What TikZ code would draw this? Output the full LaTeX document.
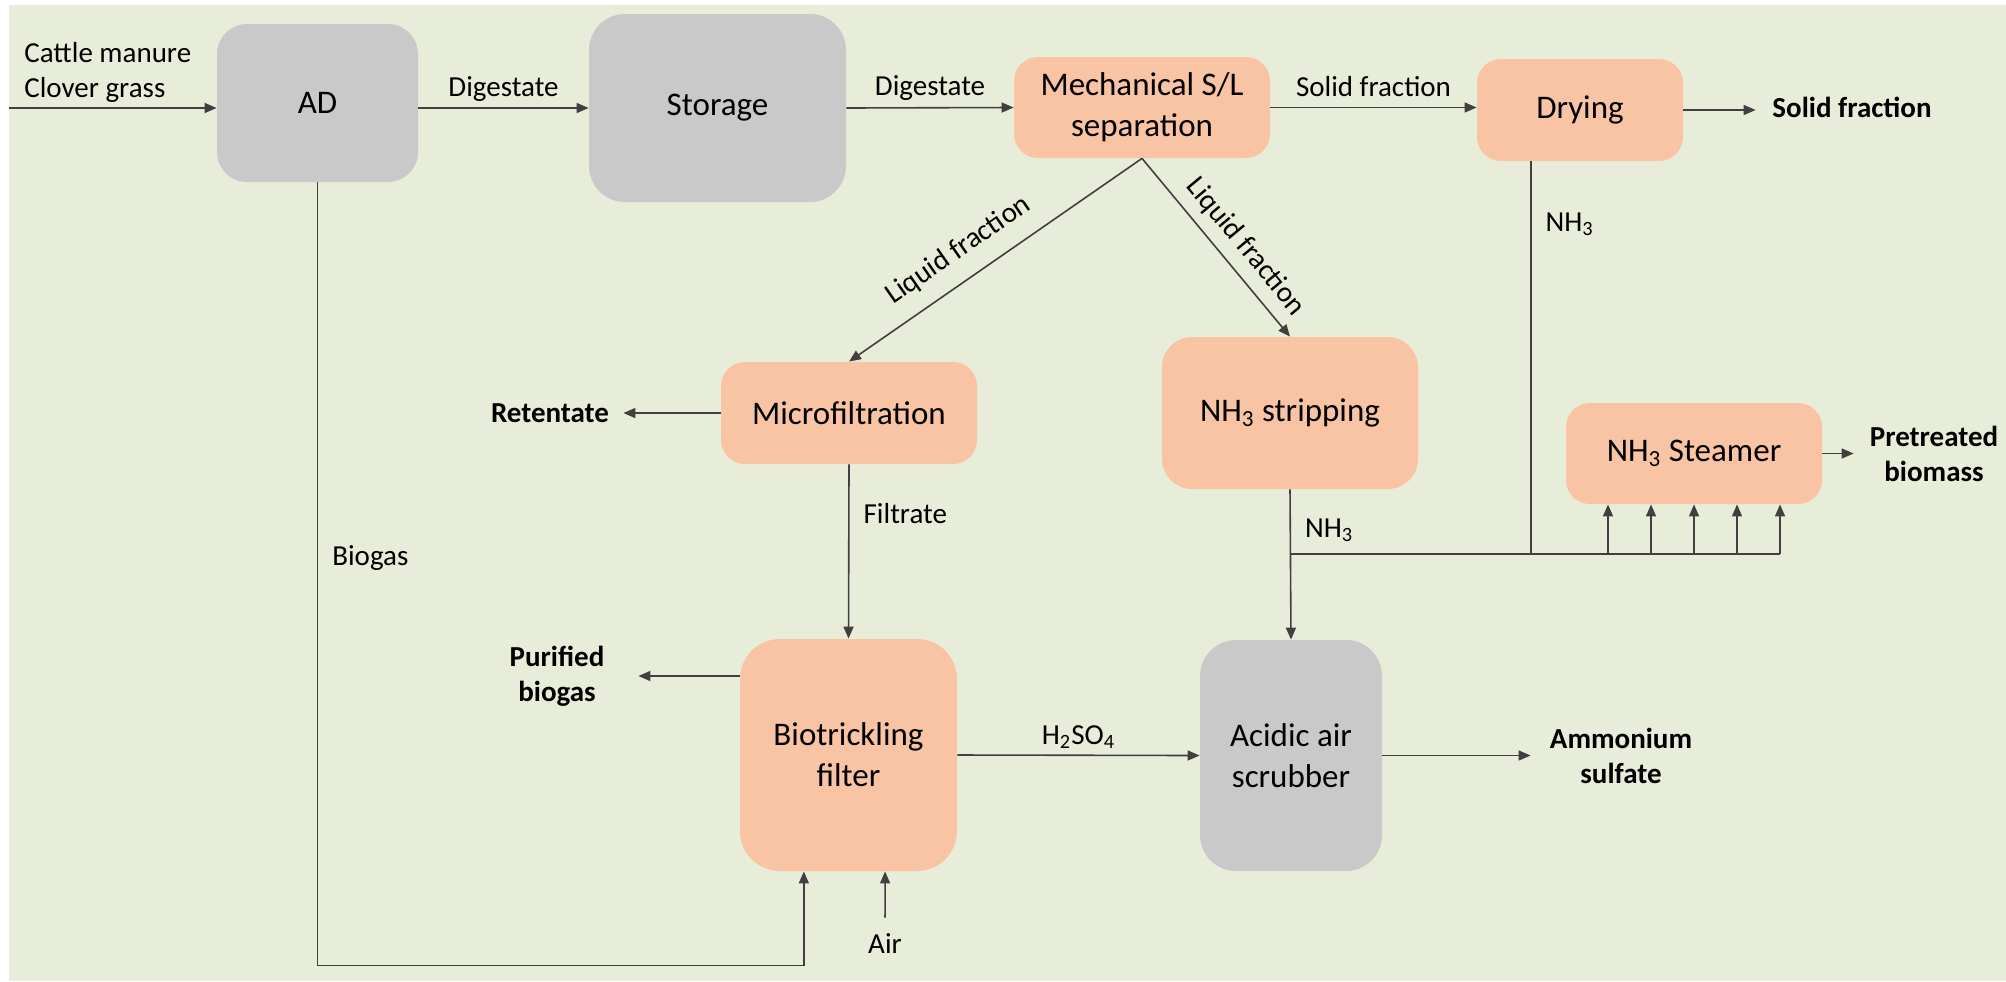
\documentclass[tikz,border=0pt]{standalone}
\usepackage{fontspec}
\setmainfont{Carlito}
\usetikzlibrary{arrows.meta,calc}
\definecolor{bgcol}{HTML}{E8EDDA}
\definecolor{peach}{HTML}{F8C4A4}
\definecolor{boxgray}{HTML}{C9C9C9}
\definecolor{linecol}{HTML}{404040}

\begin{document}
\begin{tikzpicture}[x=0.5pt, y=-0.5pt,
	proc/.style={fill=peach, rounded corners=15pt, inner sep=0pt, align=center, font=\fontsize{16.5}{20.5}\selectfont},
	store/.style={proc, fill=boxgray},
	flow/.style={draw=linecol, line width=0.8pt, -{Triangle[length=6pt,width=5pt]}},
	pipe/.style={draw=linecol, line width=0.8pt},
	lbl/.style={font=\fontsize{14.5}{17.5}\selectfont, inner sep=3pt},
	prod/.style={lbl, font=\fontsize{14.5}{17.5}\selectfont\bfseries, align=center},
]

\useasboundingbox (0,0) rectangle (2006,981);
\fill[white] (0,0) rectangle (2006,981);
\fill[bgcol] (9,5) rectangle (2006,981);

% process units
\node[store, minimum width=100.5pt, minimum height=79pt] (ad) at (317.5,103) {AD};
\node[store, minimum width=128.5pt, minimum height=94pt, rounded corners=18pt] (storage) at (717.5,108) {Storage};
\node[proc, minimum width=128pt, minimum height=50.5pt, rounded corners=12pt] (sep) at (1142,107.5) {Mechanical S/L\\separation};
\node[proc, minimum width=103pt, minimum height=51pt, rounded corners=12pt] (drying) at (1580,110) {Drying};
\node[proc, minimum width=128pt, minimum height=51pt, rounded corners=12pt] (micro) at (849,413) {Microfiltration};
\node[proc, minimum width=128pt, minimum height=76pt] (strip) at (1290,413) {NH\textsubscript{3} stripping};
\node[proc, minimum width=128pt, minimum height=50.5pt, rounded corners=12pt] (steamer) at (1694,453.5) {NH\textsubscript{3} Steamer};
\node[proc, minimum width=108.5pt, minimum height=116pt, rounded corners=20pt] (btf) at (848.5,755) {Biotrickling\\filter};
\node[store, minimum width=91pt, minimum height=115.5pt, rounded corners=18pt] (scrub) at (1291,755.5) {Acidic air\\scrubber};

% inputs and products
\node[lbl, anchor=west, align=left] (feed) at (18,72) {Cattle manure\\Clover grass};
\node[prod, minimum width=96pt] (solidout) at (1852,107) {Solid fraction};
\node[prod, minimum width=73pt] (ret) at (550,413) {Retentate};
\node[prod, minimum width=81pt] (purgas) at (557,676) {Purified\\biogas};
\node[prod, minimum width=90pt] (amsulf) at (1621,755.5) {Ammonium\\sulfate};
\node[prod, minimum width=80pt] (pretr) at (1934,453.5) {Pretreated\\biomass};
\node[lbl, inner ysep=8pt] (air) at (885,944) {Air};

\coordinate (feedin) at (9,108);
\coordinate (nh3bus) at (1290,554);
\coordinate (dryout) at ($(drying.south west)!0.262!(drying.south east)$);
\coordinate (gasin) at ($(btf.south west)!0.295!(btf.south east)$);
\coordinate (airin) at ($(btf.south west)!0.668!(btf.south east)$);

% main line
\draw[flow] (feedin) -- (feedin -| ad.west);
\draw[flow] (ad.east |- storage.west) -- node[lbl, above] {Digestate} (storage.west);
\draw[flow] (storage.east) -- node[lbl, above] {Digestate} (sep.west);
\draw[flow] (sep.east) -- node[lbl, above=2pt] {Solid fraction} (sep.east -| drying.west);
\draw[flow] (drying.east) -- (drying.east -| solidout.west);

% liquid fraction
\draw[flow] (sep.south) -- node[lbl, sloped, above=5pt, pos=.57] {Liquid fraction} (micro.north);
\draw[flow] (sep.south) -- node[lbl, sloped, above=2pt, pos=.58] {Liquid fraction} (strip.north);
\draw[flow] (micro.west) -- (micro.west -| ret.east);
\draw[flow] (micro.south) -- node[lbl, right=4pt, pos=.28] {Filtrate} (btf.north);
\draw[flow] (btf.west |- purgas.east) -- (purgas.east);
\draw[flow] (btf.east) -- node[lbl, above] {H\textsubscript{2}SO\textsubscript{4}} (scrub.west);
\draw[flow] (scrub.east) -- (scrub.east -| amsulf.west);

% ammonia
\draw[flow] (strip.south) -- node[lbl, right=4pt, pos=.27] {NH\textsubscript{3}} (scrub.north);
\draw[pipe] (dryout) -- node[lbl, right=4pt, pos=.16] {NH\textsubscript{3}} (dryout |- nh3bus);
\foreach \dx [count=\i] in {-86,-43,0,43,86} {
	\coordinate (st\i) at ($(steamer.south)+(\dx,0)$);
	\draw[flow] (st\i |- nh3bus) -- (st\i);
}
\draw[pipe] (nh3bus) -- (st5 |- nh3bus);
\draw[flow] (steamer.east) -- (steamer.east -| pretr.west);

% biogas and air
\draw[flow] (ad.south) |- node[lbl, right=4pt, pos=.24] {Biogas} ($(gasin)+(0,94)$) -- (gasin);
\draw[flow] (air) -- (airin);

\end{tikzpicture}
\end{document}
